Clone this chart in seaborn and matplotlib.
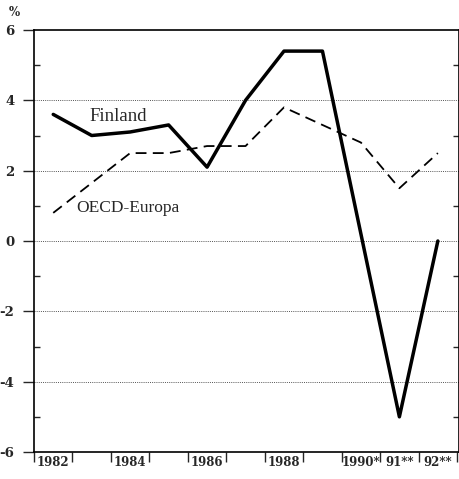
import matplotlib
matplotlib.use("Agg")
import matplotlib.pyplot as plt
import seaborn as sns
import pandas as pd
import numpy as np

years = [1982, 1983, 1984, 1985, 1986, 1987, 1988, 1989, 1990, 1991, 1992]
finland = [3.6, 3.0, 3.1, 3.3, 2.1, 4.0, 5.4, 5.4, 0.2, -5.0, 0.0]
oecd_europa = [0.8, 1.65, 2.5, 2.5, 2.7, 2.7, 3.8, 3.3, 2.8, 1.5, 2.5]
xtick_pos = [1982, 1984, 1986, 1988, 1990, 1991, 1992]
xtick_labels = ["1982", "1984", "1986", "1988", "1990*", "91**", "92**"]
yticks = [-6, -4, -2, 0, 2, 4, 6]

sns.set_style("white")
plt.rcParams['font.family'] = ['DejaVu Serif']

df = pd.DataFrame({
    "year": years * 2,
    "value": finland + oecd_europa,
    "series": ["Finland"] * len(years) + ["OECD-Europa"] * len(years),
})

fig = plt.figure(figsize=(4.6, 4.79), dpi=100)
ax = fig.add_axes([34/460, 1 - 452/479, 425/460, (452 - 30)/479])

sns.lineplot(data=df[df.series == "Finland"], x="year", y="value", ax=ax,
             color="black", linewidth=2.5, legend=False)
sns.lineplot(data=df[df.series == "OECD-Europa"], x="year", y="value", ax=ax,
             color="black", linewidth=1.3, legend=False, dashes=False)
ax.lines[1].set_linestyle((0, (6, 3.5)))

ax.set_xlim(1981.5, 1992.55)
ax.set_ylim(-6, 6)

# y axis
ax.set_yticks(yticks)
ax.set_yticklabels([str(v) for v in yticks], fontweight="bold", fontsize=9.5)
ax.set_yticks(np.arange(-5, 6, 2), minor=True)
for v in [-4, -2, 0, 2, 4]:
    ax.axhline(v, color="#555555", linestyle=(0, (1, 1.2)), linewidth=0.7, zorder=0)

# x axis: ticks at year boundaries, labels at year centres
ax.set_xticks(np.arange(1981.5, 1993, 1.0))
ax.set_xticklabels([])
ax.set_xticks(xtick_pos, minor=True)
ax.set_xticklabels(xtick_labels, minor=True, fontweight="bold", fontsize=8.5)

ax.tick_params(axis="y", which="major", direction="out", length=8, width=1.0, pad=6, left=True)
ax.tick_params(axis="y", which="minor", direction="in", length=4, width=1.0, left=True, right=True)
ax.tick_params(axis="x", which="major", direction="out", length=7, width=1.0, bottom=True)
ax.tick_params(axis="x", which="minor", length=0, pad=3, bottom=True)

for s in ax.spines.values():
    s.set_color("black")
    s.set_linewidth(1.2)

ax.set_xlabel("")
ax.set_ylabel("")

ax.text(1983.7, 3.55, "Finland", family="Liberation Serif", fontsize=13.5,
        ha="center", va="center")
ax.text(1983.95, 0.95, "OECD-Europa", family="Liberation Serif", fontsize=12.5,
        ha="center", va="center")

fig.text(14/460, 1 - 13/479, "%", fontsize=8.5, fontweight="bold", ha="center", va="center")

fig.savefig("out.png", dpi=100)
